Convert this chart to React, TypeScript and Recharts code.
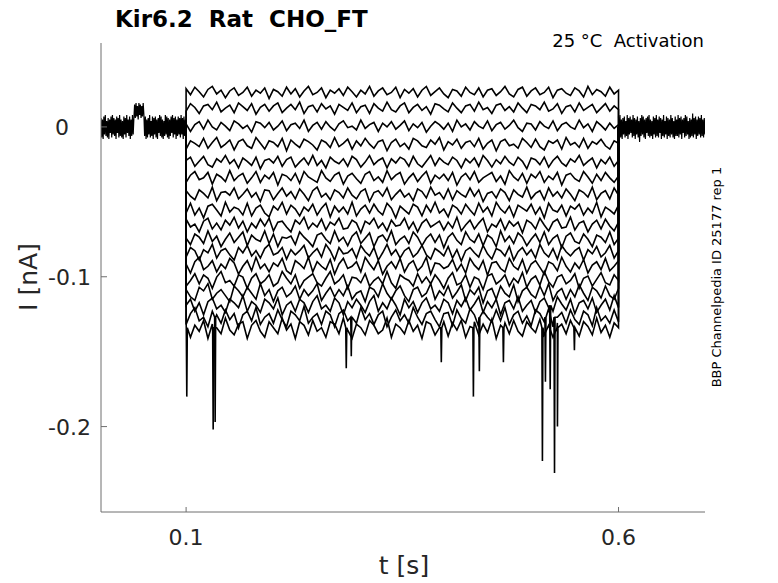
import React from 'react';
import { LineChart, Line, XAxis, YAxis } from 'recharts';

// Time base (s)
const T_MIN = 0.0016;
const T_MAX = 0.7;
const STEP_START = 0.1;
const STEP_END = 0.6;

const X_TICKS = [0.1, 0.6];
const Y_TICKS = [-0.2, -0.1, 0];
const Y_DOMAIN = [-0.257, 0.056];

// steady current of each sweep during the voltage step (nA)
const sweepLevels = [
  0.023, 0.0125, 0.0005, -0.0115, -0.0235, -0.034, -0.045, -0.0555, -0.0655,
  -0.075, -0.084, -0.093, -0.1025, -0.111, -0.119, -0.127, -0.134,
];

// how noisy each sweep looks (nA per noise unit)
const sweepNoiseUnit = [
  0.0005, 0.0005, 0.0005, 0.00055, 0.00055, 0.0006, 0.0006, 0.00065, 0.00065,
  0.0007, 0.0007, 0.00075, 0.00075, 0.0008, 0.0008, 0.0008, 0.0008,
];

// noise on each sweep during the step, in noise units
const sweepNoise = [
  [5,-3,7,1,-6,4,8,-2,3,-7,2,6,-4,0,7,-5,3,-1,6,-8,4,1,-5,7,-2,5,-6,2,8,-3,0,6,-7,3,-1,5,-4,7,1,-6,3,-2,8,-5,2,6,-3,0,7,-7,4,-1,5,-6,3,8,-4,1,6,-2,-7,4,2,-5,7,0,-3,6,-6,3,5,-4,1,8,-2,-6,4,7,-5,2,6,-3,0,7,-7,3,5,-1,-4,6,2,-6,8,-3,4,1,-5,7,-2,3],
  [-4,6,1,-7,3,5,-2,8,-5,0,4,-6,7,2,-3,6,-8,1,5,-4,3,7,-6,0,5,-2,8,-7,2,4,-5,6,-1,3,-8,5,1,-3,7,-6,2,4,-7,6,0,-4,8,-2,-5,3,7,-6,1,5,-3,2,-8,6,4,-1,-5,7,0,-6,3,5,-4,8,-2,1,-7,4,6,-3,2,-5,7,0,-6,5,3,-2,8,-4,-1,6,-7,2,4,-5,7,-3,1,5,-6,0,6,-4,3,-2],
  [3,-7,2,6,-4,8,-1,-5,5,0,-6,7,3,-3,1,-8,6,4,-2,5,-5,0,7,-6,2,4,-3,8,-7,1,5,-4,6,-1,-6,3,7,-2,0,-5,8,-3,2,5,-7,4,-1,6,-4,1,7,-6,3,-2,5,-8,0,6,2,-4,4,-7,8,-1,3,-5,6,0,-3,7,-6,2,5,-4,1,8,-2,-7,4,3,-5,6,0,-3,7,-6,2,5,-1,-4,8,-2,3,-7,6,1,-5,4,-3,2],
  [-6,4,1,-3,7,-5,2,8,-4,0,5,-7,3,6,-2,-5,8,1,-6,4,2,-3,7,-8,5,0,-4,6,3,-1,-7,5,2,-4,8,-3,1,6,-6,4,-2,7,0,-5,3,5,-8,2,6,-3,1,-6,7,4,-2,-4,5,0,8,-7,3,-1,6,-5,2,4,-3,7,-6,1,5,-8,3,6,-2,0,-5,7,2,-4,6,-3,-7,4,1,5,-6,8,-1,2,-4,7,-5,3,0,6,-2,-6,4,1],
  [2,6,-5,1,7,-3,-6,4,0,8,-2,3,-7,5,1,-4,6,-8,2,4,-1,7,-5,3,6,-6,0,5,-3,8,-4,2,-7,6,1,-2,4,-5,7,3,-6,0,8,-3,2,5,-7,4,-1,6,3,-5,7,-2,-6,1,8,-4,5,0,-3,6,2,-7,4,-1,5,-5,8,2,-6,3,-2,7,0,-4,6,1,-8,5,3,-3,6,-6,2,7,-1,-5,4,0,8,-4,1,5,-7,3,-2,6,-5,2],
  [-5,3,7,-2,0,6,-7,4,1,-4,8,-3,2,5,-6,0,7,-5,3,-1,6,-8,4,2,-3,5,-6,7,1,-2,-5,8,0,-4,3,6,-7,2,5,-1,-6,4,7,-3,1,-5,8,-2,3,6,-7,0,5,-4,2,7,-6,3,-1,4,-3,6,-8,1,5,-2,7,-5,0,3,6,-4,2,-7,8,1,-3,5,-6,4,0,7,-5,2,-2,6,-8,3,5,-1,-4,7,1,-6,4,-3,6,0,-5,2],
  [4,-2,-6,5,1,-4,8,-7,2,3,-1,7,-5,0,6,-3,2,-8,5,4,-6,1,7,-2,3,-5,6,0,-7,4,8,-3,1,-6,5,2,-4,7,-1,-5,3,6,-8,2,4,-2,7,-6,0,5,-3,1,-7,6,3,-4,8,-1,2,-5,6,-6,4,0,-3,7,-2,5,-8,1,3,-4,6,2,-7,5,0,-3,8,-5,1,4,-6,7,-2,3,-4,6,0,-7,5,2,-3,8,-6,1,4,-5,7,-1],
  [-3,7,-5,2,-8,4,6,0,-6,8,-2,3,1,-5,7,-6,2,5,-3,-7,4,0,8,-4,5,1,-6,3,-1,6,-5,2,7,-7,4,-2,3,-4,8,-6,1,5,-3,6,-1,-5,7,2,-8,4,0,-4,6,3,-6,5,-2,8,-3,1,-7,5,2,-4,6,0,-5,7,-2,3,-6,8,1,-3,4,-7,5,2,-1,6,-4,3,-8,7,0,-2,5,-6,4,1,6,-5,2,-3,8,-7,3,0,-4,5],
  [6,-2,1,-7,4,7,-4,2,-5,5,0,8,-3,4,-7,2,-3,6,-1,7,-6,3,4,-2,-7,5,1,8,-4,2,-2,6,-5,3,0,7,-4,-3,5,2,-8,4,1,7,-3,2,-6,5,-1,0,7,-4,3,-7,2,6,-2,1,4,-5,3,-3,8,-6,0,5,-4,2,7,-7,1,-2,6,-5,4,-1,3,-8,5,2,-4,7,0,-6,3,6,-3,-2,8,-5,2,4,-7,1,5,-4,6,-1,-6,3],
  [1,-5,5,2,-4,8,-2,3,-7,0,6,-3,2,7,-6,4,0,-2,8,-4,5,-7,2,1,3,-5,7,2,-2,-7,4,6,0,-4,8,-2,2,-6,3,7,-4,1,6,-7,2,4,-2,8,-5,0,3,-4,7,2,-6,1,5,-3,4,-8,2,6,-1,-5,7,0,-3,5,-6,4,1,-7,8,-2,3,-4,6,2,-6,0,5,-3,7,-5,1,4,-8,3,6,-2,-4,5,0,-7,4,2,-3,7,-5,1],
  [-4,5,2,-7,3,0,8,-5,2,4,-2,-7,5,0,7,-3,2,-5,4,8,-2,0,5,-6,3,-2,2,7,-5,0,4,-4,8,2,-7,5,-1,0,4,-5,7,1,-3,5,-7,0,8,-2,3,-5,2,5,-4,0,7,-2,-6,4,1,-3,6,-5,3,-8,2,5,0,-4,7,-1,-6,4,2,-3,6,-7,1,5,-2,3,-5,8,0,-4,4,-6,7,1,-3,2,5,-7,3,-1,6,-4,0,7,-5,2],
  [2,-6,4,8,-3,0,5,-5,2,-2,7,3,-7,0,5,-4,8,-2,2,-5,3,0,7,-4,-7,5,2,-2,8,-5,4,0,-3,6,-7,2,7,-2,0,4,-5,8,2,-3,5,-7,0,4,-2,7,-5,2,5,-4,0,8,-7,3,2,-2,0,6,-4,2,-6,7,1,-3,5,-8,3,4,-2,-5,7,0,-3,6,-6,2,5,-1,-7,4,2,-4,8,0,-5,3,-2,6,-6,1,4,-3,7,-4,0,5],
  [-5,0,6,-3,5,2,-7,3,8,-2,0,-5,5,3,-7,2,6,-3,0,5,-5,-2,8,2,-3,5,-7,0,3,6,-2,-5,2,8,-3,0,5,-7,3,2,-2,6,-5,0,3,-3,8,-2,-7,5,2,0,-5,6,-2,3,-3,5,0,-7,2,7,-4,-2,5,-6,3,1,-8,4,6,-3,0,5,-5,2,-2,7,-6,1,4,-4,8,-1,-6,3,5,-3,0,6,-7,2,4,-5,1,7,-2,-4,5,0],
  [3,-3,-6,5,2,8,-5,0,3,-2,-7,6,2,-3,5,0,-5,8,-2,3,-7,2,5,-3,0,6,-5,3,-2,2,8,-6,0,5,-3,3,-2,6,-5,0,2,-7,5,3,-3,8,0,-5,2,6,-2,-7,3,5,-3,0,8,-5,2,-2,6,-4,1,7,-6,3,-1,5,-8,2,4,-5,6,0,-3,7,-7,2,5,-1,-4,6,-2,8,-6,1,4,-5,3,-3,7,0,-6,5,2,-4,6,-2,-5,4],
  [0,5,-5,2,-8,3,6,-3,0,-6,5,2,-2,8,-5,3,0,-6,5,2,-3,6,-8,0,3,-5,5,2,-6,3,8,-3,0,-5,6,2,-8,3,-2,5,0,-6,3,8,-5,2,-3,6,0,-8,5,-2,3,-6,2,6,-3,0,-5,5,2,-7,4,-1,6,-4,1,7,-6,3,-2,5,-8,2,4,-3,7,-5,0,4,-6,3,6,-2,-5,7,1,-4,5,-7,2,4,-3,6,-6,0,5,-4,8,-2],
  [-6,3,8,-3,0,-8,5,2,-5,6,-2,3,-9,2,5,-3,8,-6,0,3,-5,6,-2,-8,5,2,-3,9,-5,0,3,-6,5,2,-8,3,6,-3,0,-5,8,-2,3,-6,2,5,-8,0,6,-3,2,-5,8,0,-6,3,5,-2,-8,3,4,-7,6,-1,-5,7,2,-8,5,0,-4,6,-3,8,-6,2,5,-5,1,-7,6,3,-4,7,-8,0,4,-5,6,-2,-6,5,2,-7,8,-3,1,-5,6,-4],
  [5,-8,2,-3,6,-9,3,0,-5,8,-2,-6,3,5,-9,2,6,-3,-8,5,0,-5,8,-2,3,-9,5,2,-6,6,-3,0,-8,5,3,-5,8,-2,-9,3,0,-6,6,2,-5,-2,8,-8,3,0,-5,6,-3,2,-9,5,3,-6,0,5,-7,4,-2,6,-8,1,5,-6,3,-4,7,-9,2,4,-5,6,-3,-7,5,0,-4,7,-6,2,-8,4,3,-5,6,-2,-7,5,1,-6,8,-4,2,-8,4,0],
];

// short downward spikes (s, nA, sweep index)
const spikeTimes = [0.1008, 0.1313, 0.1336, 0.2852, 0.291, 0.3951, 0.4322, 0.4391, 0.4669, 0.512, 0.5155, 0.521, 0.526, 0.5294, 0.549];
const spikeValues = [-0.18, -0.202, -0.197, -0.161, -0.153, -0.157, -0.18, -0.163, -0.157, -0.223, -0.17, -0.175, -0.231, -0.2, -0.149];
const spikeSweep = [16, 16, 15, 16, 15, 16, 16, 15, 16, 16, 15, 14, 15, 16, 16];

// holding current before the step (test pulse around 0.04-0.052 s), in pA
const preNoise = [
  6,-7,5,-8,7,-5,8,-6,4,-7,6,-8,5,-4,7,-7,8,-5,6,-6,5,-8,7,-4,6,-7,8,-6,5,-7,4,-8,7,-5,6,-7,8,-4,5,-6,7,-8,5,-6,8,-5,6,
  15,6,16,7,14,5,16,8,15,6,14,7,16,8,
  -6,7,-8,5,-7,6,-5,8,-7,4,-6,7,-8,6,-5,7,-7,5,-8,6,-4,8,-6,7,-7,5,-8,4,-6,8,-5,7,-7,6,-8,5,-6,7,-4,8,-7,6,-5,7,-8,5,-6,7,-5,6,-7,8,-5,6,-8,7,-6,5,-7,
];

// holding current after the step, in pA
const postNoise = [
  7,-6,8,-7,5,-8,6,-5,7,-7,4,-6,8,-8,6,-5,7,-4,5,-7,8,-6,6,-8,5,-5,7,-7,4,-10,6,-6,8,-5,7,-7,5,-8,6,-4,
  7,-6,8,-7,5,-6,4,-8,7,-5,6,-7,8,-6,5,-7,7,-4,6,-8,5,-6,8,-7,4,-5,7,-8,6,-6,5,-7,8,-5,6,-7,4,-8,7,-6,
  5,-6,8,-7,6,-5,7,-8,5,-4,6,-7,8,-6,7,-5,4,-8,6,-7,5,-6,9,-7,6,-5,7,-8,5,-6,7,-5,6,-7,8,-6,5,-7,6,-5,
];

type Pt = { t: number; v: number };

const TEXT = '#262626';
const AXIS = '#6e6e6e';
const FONT = '"DejaVu Sans", sans-serif';

function buildSweep(k: number): Pt[] {
  const level = sweepLevels[k];
  const unit = sweepNoiseUnit[k];
  const noise = sweepNoise[k];
  const dt = (STEP_END - STEP_START) / (noise.length - 1);
  const pts: Pt[] = noise.map((n, i) => ({ t: STEP_START + i * dt, v: level + n * unit }));
  spikeTimes.forEach((ts, j) => {
    if (spikeSweep[j] !== k) return;
    pts.push({ t: ts - 0.0006, v: level }, { t: ts, v: spikeValues[j] }, { t: ts + 0.0006, v: level });
  });
  pts.sort((a, b) => a.t - b.t);
  return [{ t: STEP_START, v: 0 }, ...pts, { t: STEP_END, v: 0 }];
}

function buildBaseline(noise: number[], t0: number, t1: number): Pt[] {
  const dt = (t1 - t0) / (noise.length - 1);
  return noise.map((n, i) => ({ t: t0 + i * dt, v: n / 1000 }));
}

const sweeps = sweepLevels.map((_, k) => buildSweep(k));
const preData = buildBaseline(preNoise, T_MIN, STEP_START);
const postData = buildBaseline(postNoise, STEP_END, T_MAX);

const YTick = (props: any) => {
  const { x, y, payload } = props;
  const shift = payload.value === 0 ? 22 : 0;
  return (
    <text x={x - 10 - shift} y={y} dy={8} textAnchor="end" fontSize={22} fill={TEXT} fontFamily={FONT}>
      {payload.value === 0 ? '0' : String(payload.value)}
    </text>
  );
};

const XTick = (props: any) => {
  const { x, y, payload } = props;
  return (
    <text x={x} y={y + 33} textAnchor="middle" fontSize={22} fill={TEXT} fontFamily={FONT}>
      {String(payload.value)}
    </text>
  );
};

export default function App() {
  return (
    <div style={{ position: 'absolute', left: 0, top: 0, width: 778, height: 583, background: '#fff' }}>
      <LineChart width={778} height={583} margin={{ top: 43, right: 73, bottom: 41, left: 41 }}>
        <XAxis
          type="number"
          dataKey="t"
          domain={[T_MIN, T_MAX]}
          ticks={X_TICKS}
          allowDataOverflow
          height={30}
          tickSize={-5}
          tickMargin={5}
          tick={<XTick />}
          stroke={AXIS}
        />
        <YAxis
          type="number"
          dataKey="v"
          domain={Y_DOMAIN}
          ticks={Y_TICKS}
          allowDataOverflow
          width={60}
          tickSize={-6}
          tickMargin={6}
          tick={<YTick />}
          stroke={AXIS}
        />
        <Line data={preData} dataKey="v" type="linear" stroke="#000" strokeWidth={1.2} dot={false} activeDot={false} isAnimationActive={false} />
        <Line data={postData} dataKey="v" type="linear" stroke="#000" strokeWidth={1.2} dot={false} activeDot={false} isAnimationActive={false} />
        {sweeps.map((d, k) => (
          <Line
            key={k}
            data={d}
            dataKey="v"
            type="linear"
            stroke="#000"
            strokeWidth={1.6}
            dot={false}
            activeDot={false}
            isAnimationActive={false}
          />
        ))}
      </LineChart>
      <svg
        width={778}
        height={583}
        style={{ position: 'absolute', left: 0, top: 0, pointerEvents: 'none' }}
        fontFamily={FONT}
      >
        <text x={115} y={27} fontSize={23} fontWeight="bold" fill="#000" style={{ whiteSpace: 'pre' }}>
          Kir6.2  Rat  CHO_FT
        </text>
        <text x={704} y={47} fontSize={18} textAnchor="end" fill="#000" style={{ whiteSpace: 'pre' }}>
          25 °C  Activation
        </text>
        <text x={37} y={277} fontSize={25} textAnchor="middle" fill={TEXT} transform="rotate(-90 37 277)">
          I [nA]
        </text>
        <text x={404} y={574} fontSize={25} textAnchor="middle" fill={TEXT}>
          t [s]
        </text>
        <text x={721} y={277} fontSize={13} textAnchor="middle" fill="#000" transform="rotate(-90 721 277)">
          BBP Channelpedia ID 25177 rep 1
        </text>
      </svg>
    </div>
  );
}
